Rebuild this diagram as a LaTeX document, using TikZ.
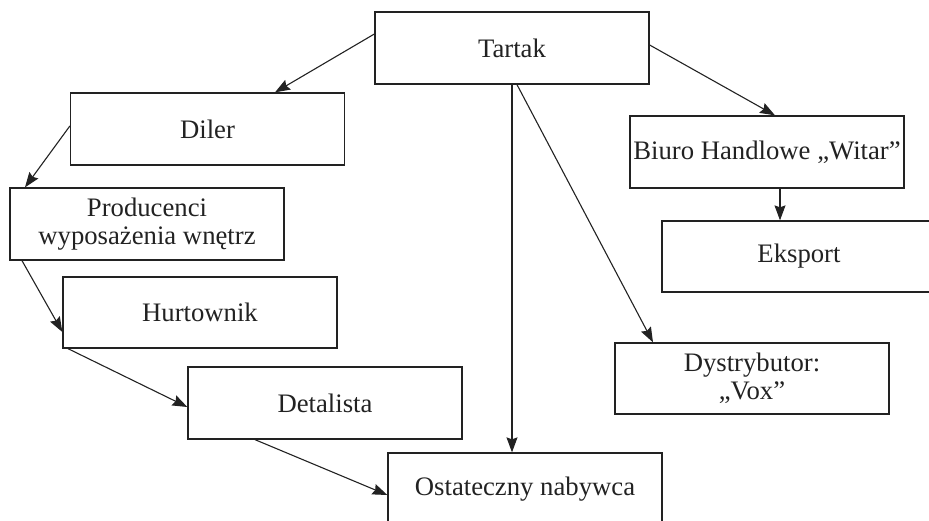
\documentclass[tikz,border=0pt]{standalone}
\usepackage{fontspec}
\setmainfont{Liberation Serif}
\usetikzlibrary{arrows.meta,calc}
\definecolor{ink}{HTML}{222222}
\tikzset{
  box/.style={draw=ink, line width=1.3pt, minimum width=274pt, minimum height=72pt, inner sep=0pt, align=center, text=ink, font=\fontsize{26.7}{28.5}\selectfont},
  conn/.style={draw=ink, line width=1.1pt, -{Stealth[length=15pt,width=11pt,inset=2pt]}}
}
\begin{document}
\begin{tikzpicture}[x=1pt,y=-1pt]
\useasboundingbox (0,0) rectangle (929,520);
\node[box] (tartak) at (512,48) {Tartak};
\node[box] (diler) at (207.5,129) {Diler};
\node[box] (prod) at (147,224) {Producenci\\wyposażenia wnętrz};
\node[box, minimum height=71pt] (hurt) at (200,312.5) {Hurtownik};
\node[box] (detal) at (325,403) {Detalista};
\node[box] (ost) at (525,489) {Ostateczny nabywca};
\node[box] (biuro) at (767,152) {Biuro Handlowe „Witar”};
\node[box, minimum height=71pt] (eksport) at (799,256.5) {Eksport};
\node[box, minimum height=71pt] (dystr) at (752,378.5) {Dystrybutor:\\„Vox”};

\draw[conn] ([yshift=14pt]tartak.west) -- ([xshift=67.5pt]diler.north);
\draw[conn] ([yshift=3pt]diler.west) -- ([xshift=-122pt]prod.north);
\draw[conn] ([xshift=-125pt]prod.south) -- ([yshift=-19.5pt]hurt.west);
\draw[conn] ([xshift=-132pt]hurt.south) -- ([yshift=-4pt]detal.west);
\draw[conn] ([xshift=-70pt]detal.south) -- ([yshift=-6pt]ost.west);
\draw[conn] (tartak.south) -- (tartak.south |- ost.north);
\draw[conn] ([xshift=5pt]tartak.south) -- ([xshift=-99pt]dystr.north);
\draw[conn] ([yshift=3pt]tartak.east) -- ([xshift=8pt]biuro.north);
\draw[conn] ([xshift=13pt]biuro.south) -- ([xshift=13pt]biuro.south |- eksport.north);
\end{tikzpicture}
\end{document}
